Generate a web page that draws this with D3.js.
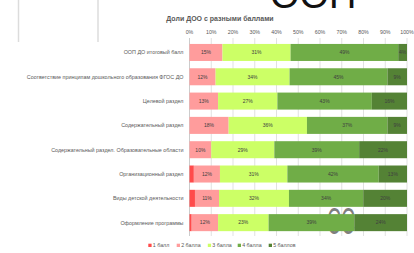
<!DOCTYPE html>
<html>
<head>
<meta charset="utf-8">
<script src="https://cdn.jsdelivr.net/npm/d3@7"></script>
<style>
  body { margin: 0; background: #fff; }
  svg { display: block; font-family: "Liberation Sans", Arial, sans-serif; }
</style>
</head>
<body>
<script>
//chart data
var categories = [
    "ООП ДО итоговый балл",
    "Соответствие принципам дошкольного образования ФГОС ДО",
    "Целевой раздел",
    "Содержательный раздел",
    "Содержательный раздел. Образовательные области",
    "Организационный раздел",
    "Виды детской деятельности",
    "Оформление программы"
];
var seriesNames = ["1 балл", "2 балла", "3 балла", "4 балла", "5 баллов"];
var ball1 = [0, 0, 0, 0, 0, 2, 2.5, 1];
var ball2 = [15, 12, 13, 18, 10, 12, 11, 12];
var ball3 = [31, 34, 27, 36, 29, 31, 32, 23];
var ball4 = [49, 45, 43, 37, 39, 42, 34, 39];
var ball5 = [4, 9, 16, 9, 22, 13, 20, 24];
var tickLabels = ["0%", "10%", "20%", "30%", "40%", "50%", "60%", "70%", "80%", "90%", "100%"];
var colors = ["#ff4b4b", "#ff9c9c", "#ccff66", "#70ad47", "#548235"];

window.onload = drawChart();

function drawChart(){
    var width = 414, height = 253;

    var svg = d3.select("body").append("svg")
        .attr("width", width)
        .attr("height", height);

    //slide leftovers around the chart
    svg.append("text")
        .attr("x", 270).attr("y", 8)
        .attr("font-size", 38)
        .attr("fill", "#111")
        .text("ООП");
    [18.5, 98].forEach(function(x){
        svg.append("line")
            .attr("x1", x).attr("x2", x)
            .attr("y1", 0).attr("y2", 42)
            .attr("stroke", "#dcdcdc").attr("stroke-width", 1.5);
    });

    var x = d3.scaleLinear().domain([0, 1]).range([189.5, 407]);
    var y = d3.scaleBand().domain(categories).range([40.3, 234.8])
        .paddingInner(0.3).paddingOuter(0.15);

    //gridlines
    svg.append("g").selectAll("line")
        .data(d3.range(0, 1.01, 0.1))
        .enter().append("line")
        .attr("x1", function(d){ return x(d); })
        .attr("x2", function(d){ return x(d); })
        .attr("y1", 38).attr("y2", 236)
        .attr("stroke", function(d, i){ return i == 0 ? "#bfbfbf" : "#d9d9d9"; })
        .attr("stroke-width", 0.8);

    svg.append("text")
        .attr("x", 327).attr("y", 234)
        .attr("font-size", 36)
        .attr("textLength", 28).attr("lengthAdjust", "spacingAndGlyphs")
        .attr("fill", "#7f7f7f")
        .text("СС");

    //tick labels
    svg.append("g").selectAll("text")
        .data(tickLabels)
        .enter().append("text")
        .attr("x", function(d, i){ return x(i / 10); })
        .attr("y", 34)
        .attr("text-anchor", "middle")
        .attr("font-size", 5.3)
        .attr("fill", "#595959")
        .text(function(d){ return d; });

    //stack rows into shares
    var series = [ball1, ball2, ball3, ball4, ball5];
    var rows = categories.map(function(c, i){
        var vals = series.map(function(s){ return s[i]; });
        var total = d3.sum(vals);
        var start = 0;
        return vals.map(function(v, k){
            var seg = {cat: c, k: k, v: v, x0: start / total, x1: (start + v) / total};
            start += v;
            return seg;
        });
    });
    var segs = d3.merge(rows);

    svg.append("g").selectAll("rect")
        .data(segs)
        .enter().append("rect")
        .attr("x", function(d){ return x(d.x0); })
        .attr("y", function(d){ return y(d.cat); })
        .attr("width", function(d){ return x(d.x1) - x(d.x0); })
        .attr("height", y.bandwidth())
        .attr("fill", function(d){ return colors[d.k]; });

    svg.append("g").selectAll("text")
        .data(segs.filter(function(d){ return d.k > 0; }))
        .enter().append("text")
        .attr("x", function(d){ return (x(d.x0) + x(d.x1)) / 2; })
        .attr("y", function(d){ return y(d.cat) + y.bandwidth() / 2 + 1.8; })
        .attr("text-anchor", "middle")
        .attr("font-size", 5)
        .attr("fill", "#404040")
        .text(function(d){ return Math.round(d.v) + "%"; });

    //category labels
    svg.append("g").selectAll("text")
        .data(categories)
        .enter().append("text")
        .attr("x", 183.5)
        .attr("y", function(d){ return y(d) + y.bandwidth() / 2 + 1.9; })
        .attr("text-anchor", "end")
        .attr("font-size", 5.4)
        .attr("fill", "#595959")
        .text(function(d){ return d; });

    //title
    svg.append("text")
        .attr("x", 220).attr("y", 21)
        .attr("text-anchor", "middle")
        .attr("font-size", 7)
        .attr("font-weight", "bold")
        .attr("fill", "#595959")
        .text("Доли ДОО с разными баллами");

    //legend
    var legendX = [148.3, 176.7, 207.8, 237.7, 268.7];
    var legend = svg.append("g").selectAll("g")
        .data(seriesNames)
        .enter().append("g")
        .attr("transform", function(d, i){ return "translate(" + legendX[i] + ",247)"; });
    legend.append("rect")
        .attr("x", 0).attr("y", -3.3)
        .attr("width", 3.3).attr("height", 3.3)
        .attr("fill", function(d, i){ return colors[i]; });
    legend.append("text")
        .attr("x", 4.5).attr("y", 0)
        .attr("font-size", 5.3)
        .attr("fill", "#595959")
        .text(function(d){ return d; });
}
</script>
</body>
</html>
